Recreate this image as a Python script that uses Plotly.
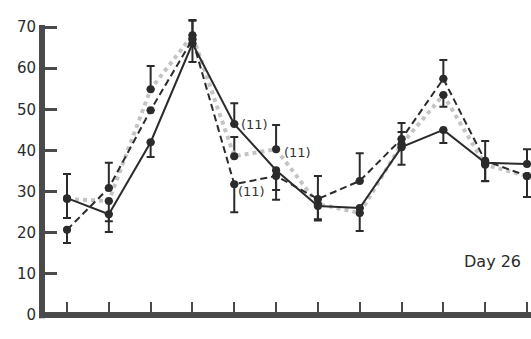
import plotly.graph_objects as go

# Sampling points along the x axis (12 ticks, unlabeled)
days = list(range(1, 13))
y_ticks = [0, 10, 20, 30, 40, 50, 60, 70]

# Group A: solid line
solid_vals = [28.4, 24.5, 42.0, 66.0, 46.4, 35.2, 26.5, 26.0, 40.8, 45.0, 37.0, 36.7]
solid_up = [5.9, None, None, 5.7, 5.1, None, None, None, None, None, 5.3, 3.6]
solid_down = [4.8, 4.3, 3.6, None, None, 4.8, 3.2, None, 4.3, 3.2, None, None]

# Group B: dashed line
dashed_vals = [20.7, 30.9, 49.8, 67.0, 31.8, 33.8, 28.2, 32.6, 42.8, 57.4, 37.5, 33.8]
dashed_up = [None, 6.1, None, 4.5, None, None, 5.6, 6.7, 3.9, 4.6, None, None]
dashed_down = [3.2, None, None, None, 6.8, 5.8, None, None, None, None, 4.9, None]

# Group C: grey dotted line
dotted_vals = [28.2, 27.7, 54.9, 68.0, 38.6, 40.3, 27.0, 24.8, 41.5, 53.5, 36.5, 33.8]
dotted_up = [None, None, 5.6, None, 4.7, 5.9, None, None, 3.0, None, None, None]
dotted_down = [None, 4.9, None, 6.5, None, None, 4.0, 4.4, None, 2.9, 4.0, 5.1]

INK = "#2b2b2b"
AXIS = "#4a4a4a"
FONT = "DejaVu Sans"

Y_MIN, Y_MAX = -5.83, 76.57
X_MIN, X_MAX = 0.402, 12.096


def yfrac(v):
    return (v - Y_MIN) / (Y_MAX - Y_MIN)


def err(up, down):
    return dict(type="data", symmetric=False, array=up, arrayminus=down,
                color=INK, thickness=2, width=4)


fig = go.Figure()

fig.add_trace(go.Scatter(
    x=days, y=dotted_vals, mode="lines+markers",
    line=dict(color="#c4c4c4", width=4, dash="dot"),
    marker=dict(color=INK, size=8),
    error_y=err(dotted_up, dotted_down), showlegend=False,
))
fig.add_trace(go.Scatter(
    x=days, y=dashed_vals, mode="lines+markers",
    line=dict(color=INK, width=2, dash="7px,4px"),
    marker=dict(color=INK, size=8),
    error_y=err(dashed_up, dashed_down), showlegend=False,
))
fig.add_trace(go.Scatter(
    x=days, y=solid_vals, mode="lines+markers",
    line=dict(color=INK, width=2),
    marker=dict(color=INK, size=8),
    error_y=err(solid_up, solid_down), showlegend=False,
))

# sample-size notes beside three points
notes = [
    (5, solid_vals[4], 20, 0),
    (6, dotted_vals[5], 21, -3),
    (5, dashed_vals[4], 17, -7),
]
for nx, ny, dx, dy in notes:
    fig.add_annotation(x=nx, y=ny, text="(11)", showarrow=False,
                       xshift=dx, yshift=dy,
                       font=dict(family=FONT, size=13, color="#333333"))

fig.add_annotation(x=11.17, y=12.9, text="Day 26", showarrow=False,
                   font=dict(family=FONT, size=16, color="#2b2b2b"))

# axis lines
fig.add_shape(type="line", xref="paper", yref="paper",
              x0=0, x1=0, y0=yfrac(-0.8), y1=yfrac(70.5),
              line=dict(color=AXIS, width=6))
fig.add_shape(type="line", xref="paper", yref="paper",
              x0=0, x1=1, y0=yfrac(0), y1=yfrac(0),
              line=dict(color=AXIS, width=6))

fig.update_layout(
    width=531, height=339,
    margin=dict(l=42, r=0, t=0, b=0),
    paper_bgcolor="white", plot_bgcolor="white",
    xaxis=dict(range=[X_MIN, X_MAX], tickvals=days, showticklabels=False,
               ticks="inside", ticklen=13, tickwidth=2, tickcolor=AXIS,
               showgrid=False, zeroline=False, showline=False,
               anchor="free", position=yfrac(0)),
    yaxis=dict(range=[Y_MIN, Y_MAX], tickvals=y_ticks,
               ticks="inside", ticklen=15, tickwidth=3, tickcolor=AXIS,
               showgrid=False, zeroline=False, showline=False,
               ticklabelstandoff=5,
               tickfont=dict(family=FONT, size=15, color="#2b2b2b")),
)

fig.write_html("out.html")
